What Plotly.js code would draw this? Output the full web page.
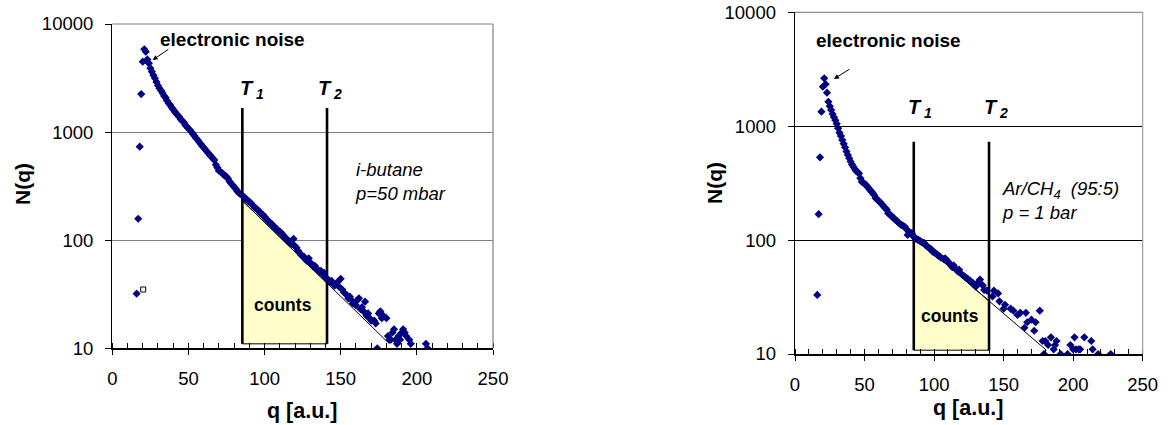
<!DOCTYPE html>
<html>
<head>
<meta charset="utf-8">
<script src="https://cdn.plot.ly/plotly-3.0.1.min.js"></script>
<style>html,body{margin:0;padding:0;background:#fff;}#chart{width:1168px;height:425px;}</style>
</head>
<body>
<div id="chart"></div>
<script>
// ---------- Left panel: i-butane, p = 50 mbar ----------
const leftQ = [16,17,18,19,20,21,22,23,24,25,26,27,28,29,30,31,32,33,34,35,36,37,38,39,40,41,42,43,44,45,46,47,48,49,50,51,52,53,54,55,56,57,58,59,60,61,62,63,64,65,66,67,68,69,70,71,72,73,74,75,76,77,78,79,80,81,82,83,84,85,86,87,88,89,90,91,92,93,94,95,96,97,98,99,100,101,102,103,104,105,106,107,108,109,110,111,112,113,114,115,116,117,118,119,120,121,122,123,124,125,126,127,128,129,130,131,132,133,134,135,136,137,138,139,140,141,142,143,144,145,146,148,149,150,151,152,154,155,156,157,158,160,161,162,163,164,165,166,167,168,169,170,172,173,174,175,176,177,178,180,181,182,183,184,185,186,187,188,189,190,191,192,193,195,196,206,207];
const leftN = [32,158,733,2250,4480,5840,5540,4700,4330,3900,3620,3350,3150,2900,2700,2540,2420,2300,2160,2080,1950,1850,1780,1690,1620,1540,1490,1430,1380,1310,1270,1230,1160,1120,1080,1045,1000,960,920,877,850,810,780,745,720,690,665,640,614,595,570,552,500,470,440,430,420,405,395,387,370,350,335,324,310,300,285,275,268,262,255,245,240,232,227,220,212,205,198,193,188,180,175,171,165,158,153,148,143,140,135,130,127,122,120,117,112,108,104,100,98,95,92,103,88,85,80,76,73,71,70,66,64,68,62,60,57,58,55,53,51,52,49,50,45,44,43,41,42,40,38,41,37,44,35,33,31,29,30,28,26,25,28,29,23,24,22,27,20,21,19,18,18,17,10,21,22,19,20,19,13,12,12,14,15,12,11,13,12,14,15,14,13,12,11,11,10];
const leftOpenQ = [20.3];
const leftOpenN = [35];
const leftT = [85.4, 141];          // thresholds T1, T2
const leftTTop = 1670;
const leftBase = 11;
const leftFitX = [85.4, 182];
const leftFitY = [232, 11];
const leftAreaX = [85.4, 85.4, 141, 141, 85.4];
const leftAreaY = [11, 232, 40, 11, 11];

// ---------- Right panel: Ar/CH4 (95:5), p = 1 bar ----------
const rightQ = [16,17,18,19,20,21,22,23,24,25,26,27,28,29,30,31,32,33,34,35,36,37,38,39,40,41,42,43,44,45,46,47,48,49,50,51,52,53,54,55,56,57,58,59,60,61,62,63,64,65,66,67,68,69,70,71,72,73,74,75,76,77,78,79,80,81,82,83,84,85,86,87,88,89,90,91,92,93,94,95,96,97,98,99,100,101,102,103,104,105,107,108,110,111,113,114,115,117,118,120,122,124,126,128,130,132,133,135,136,138,142,143,146,147,150,151,155,157,160,162,165,166,167,170,172,173,176,178,179,180,182,184,186,187,188,191,196,198,200,201,202,204,205,208,213,214,218,227];
const rightN = [33,169,533,1340,2220,2630,2340,1970,1640,1500,1390,1280,1200,1130,1050,960,877,820,757,700,653,600,560,523,490,460,441,420,405,395,385,350,326,320,312,305,295,285,275,266,258,248,233,228,222,215,210,203,196,190,185,172,168,165,160,155,152,148,144,140,137,135,133,131,125,111,118,116,115,108,105,103,101,100,98,96,95,94,90,88,86,84,83,79,78,77,75,73,72,70,68,69,65,62,58,60,57,53,55,50,48,46,44,42,39,43,45,40,36.5,36,32,36,34,29,25,27,25,24,22,23,17,23,19,20,16,19,24,13,10,13,12,14,11,12,13,10,10,12,11,14,11,11,11,14,13,11,10,10];
const rightT = [85.4, 139.5];
const rightTTop = 731;
const rightBase = 10.8;
const rightFitX = [85.4, 180.7];
const rightFitY = [108, 10.8];
const rightAreaX = [85.4, 85.4, 139.5, 139.5, 85.4];
const rightAreaY = [10.8, 108, 29.2, 10.8, 10.8];

const xTicks = [0, 50, 100, 150, 200, 250];
const yTicks = [10, 100, 1000, 10000];
const yTickText = ['10', '100', '1000', '10000'];

// ---------- drawing ----------
const W = 1168, H = 425;
const FONT = 'Liberation Sans, Arial, Helvetica, sans-serif';
const NAVY = '#000080';

function panelTraces(xa, ya, Q, N, T, tTop, base, fitX, fitY, areaX, areaY) {
  const tr = [];
  tr.push({x: areaX, y: areaY, xaxis: xa, yaxis: ya, mode: 'lines', fill: 'toself',
           fillcolor: '#FFFFCC', line: {color: '#000', width: 1}, hoverinfo: 'skip'});
  tr.push({x: fitX, y: fitY, xaxis: xa, yaxis: ya, mode: 'lines',
           line: {color: '#000', width: 1}, hoverinfo: 'skip'});
  T.forEach(t => tr.push({x: [t, t], y: [base, tTop], xaxis: xa, yaxis: ya, mode: 'lines',
           line: {color: '#000', width: 2.6}, hoverinfo: 'skip'}));
  tr.push({x: Q, y: N, xaxis: xa, yaxis: ya, mode: 'markers', type: 'scatter',
           marker: {symbol: 'diamond', size: 6.3, color: NAVY, line: {width: 0}}});
  return tr;
}

const traces = [].concat(
  panelTraces('x', 'y', leftQ, leftN, leftT, leftTTop, leftBase, leftFitX, leftFitY, leftAreaX, leftAreaY),
  panelTraces('x2', 'y2', rightQ, rightN, rightT, rightTTop, rightBase, rightFitX, rightFitY, rightAreaX, rightAreaY),
  [{x: leftOpenQ, y: leftOpenN, xaxis: 'x', yaxis: 'y', mode: 'markers',
    marker: {symbol: 'square-open', size: 5, color: '#000', line: {width: 1}}}]
);

function xAxis(domain, anchor, standoff) {
  return {domain: domain, anchor: anchor, range: [0, 250], tickvals: xTicks,
    ticks: 'outside', ticklen: 5, tickwidth: 1, tickcolor: '#000',
    showline: true, linecolor: '#000', linewidth: 1.5, showgrid: false, zeroline: false,
    tickfont: {family: FONT, size: 18.5, color: '#000'}, ticklabelstandoff: standoff,
    minor: {dtick: 10, ticks: 'inside', ticklen: 5, tickcolor: '#000', tickwidth: 1, showgrid: false},
    automargin: false, fixedrange: true};
}
function yAxis(domain, anchor, grid, standoff) {
  return {domain: domain, anchor: anchor, type: 'log', range: [1, 4],
    tickvals: yTicks, ticktext: yTickText,
    ticks: 'outside', ticklen: 6, tickwidth: 1, tickcolor: '#000',
    showline: true, linecolor: '#000', linewidth: 1.3, showgrid: true, gridcolor: grid, gridwidth: 1,
    zeroline: false, tickfont: {family: FONT, size: 18.5, color: '#000'}, ticklabelstandoff: standoff,
    automargin: false, fixedrange: true};
}

function P(px, py) { return {xref: 'paper', yref: 'paper', x: px / W, y: 1 - py / H}; }
function txt(px, py, text, size, xanchor, extra) {
  return Object.assign(P(px, py), {text: text, showarrow: false, xanchor: xanchor || 'center',
    yanchor: 'middle', align: 'left', font: {family: FONT, size: size, color: '#000'}}, extra || {});
}
function arrow(xa, ya, hx, hy, tx, ty) {
  return {xref: xa, yref: ya, axref: xa, ayref: ya, x: hx, y: Math.log10(hy), ax: tx, ay: Math.log10(ty),
    text: '', showarrow: true, arrowhead: 2, arrowsize: 1, arrowwidth: 1, arrowcolor: '#000', standoff: 0, startstandoff: 0};
}

const annotations = [
  // left panel
  txt(232, 39, '<b>electronic noise</b>', 19),
  arrow('x', 'y', 26.5, 4640, 37.8, 5960),
  txt(238, 89, '<b><i>T<sub> 1</sub></i></b>', 20, 'left'),
  txt(316, 89, '<b><i>T<sub> 2</sub></i></b>', 20, 'left'),
  txt(353, 181, '<i>i-butane<br>p=50 mbar</i>', 18.5, 'left'),
  txt(283, 305, '<b>counts</b>', 17.5),
  txt(23, 184, '<b>N(q)</b>', 21, 'center', {textangle: -90}),
  txt(302, 411, '<b>q [a.u.]</b>', 21.5),
  // right panel
  txt(888, 40, '<b>electronic noise</b>', 19),
  arrow('x2', 'y2', 28, 2600, 40.2, 3220),
  txt(906, 108, '<b><i>T<sub> 1</sub></i></b>', 20, 'left'),
  txt(982, 108, '<b><i>T<sub> 2</sub></i></b>', 20, 'left'),
  txt(1000, 201, '<i>Ar/CH<sub>4</sub>  (95:5)<br>p = 1 bar</i>', 18.5, 'left'),
  txt(950, 316, '<b>counts</b>', 17.5),
  txt(714, 183, '<b>N(q)</b>', 21, 'center', {textangle: -90}),
  txt(968, 408, '<b>q [a.u.]</b>', 21.5)
];

const shapes = [
  {type: 'line', xref: 'x domain', yref: 'y domain', x0: 0, x1: 1, y0: 1, y1: 1, line: {color: '#808080', width: 1.2}, layer: 'above'},
  {type: 'line', xref: 'x domain', yref: 'y domain', x0: 1, x1: 1, y0: 0, y1: 1, line: {color: '#808080', width: 1.2}, layer: 'above'},
  {type: 'line', xref: 'x2 domain', yref: 'y2 domain', x0: 0, x1: 1, y0: 1, y1: 1, line: {color: '#909090', width: 1.2}, layer: 'above'},
  {type: 'line', xref: 'x2 domain', yref: 'y2 domain', x0: 1, x1: 1, y0: 0, y1: 1, line: {color: '#a0a0a0', width: 1.2}, layer: 'above'}
];

const layout = {
  width: W, height: H, margin: {l: 0, r: 0, t: 0, b: 0},
  paper_bgcolor: '#fff', plot_bgcolor: 'rgba(0,0,0,0)', showlegend: false,
  font: {family: FONT, color: '#000'},
  xaxis: xAxis([112.3 / W, 493 / W], 'y', 8),
  yaxis: yAxis([1 - 348.3 / H, 1 - 24 / H], 'x', '#808080', 8),
  xaxis2: xAxis([795 / W, 1142.7 / W], 'y2', 8),
  yaxis2: yAxis([1 - 354 / H, 1 - 12.3 / H], 'x2', '#000000', 8),
  annotations: annotations,
  shapes: shapes
};

Plotly.newPlot('chart', traces, layout, {displayModeBar: false, staticPlot: true});
</script>
</body>
</html>
